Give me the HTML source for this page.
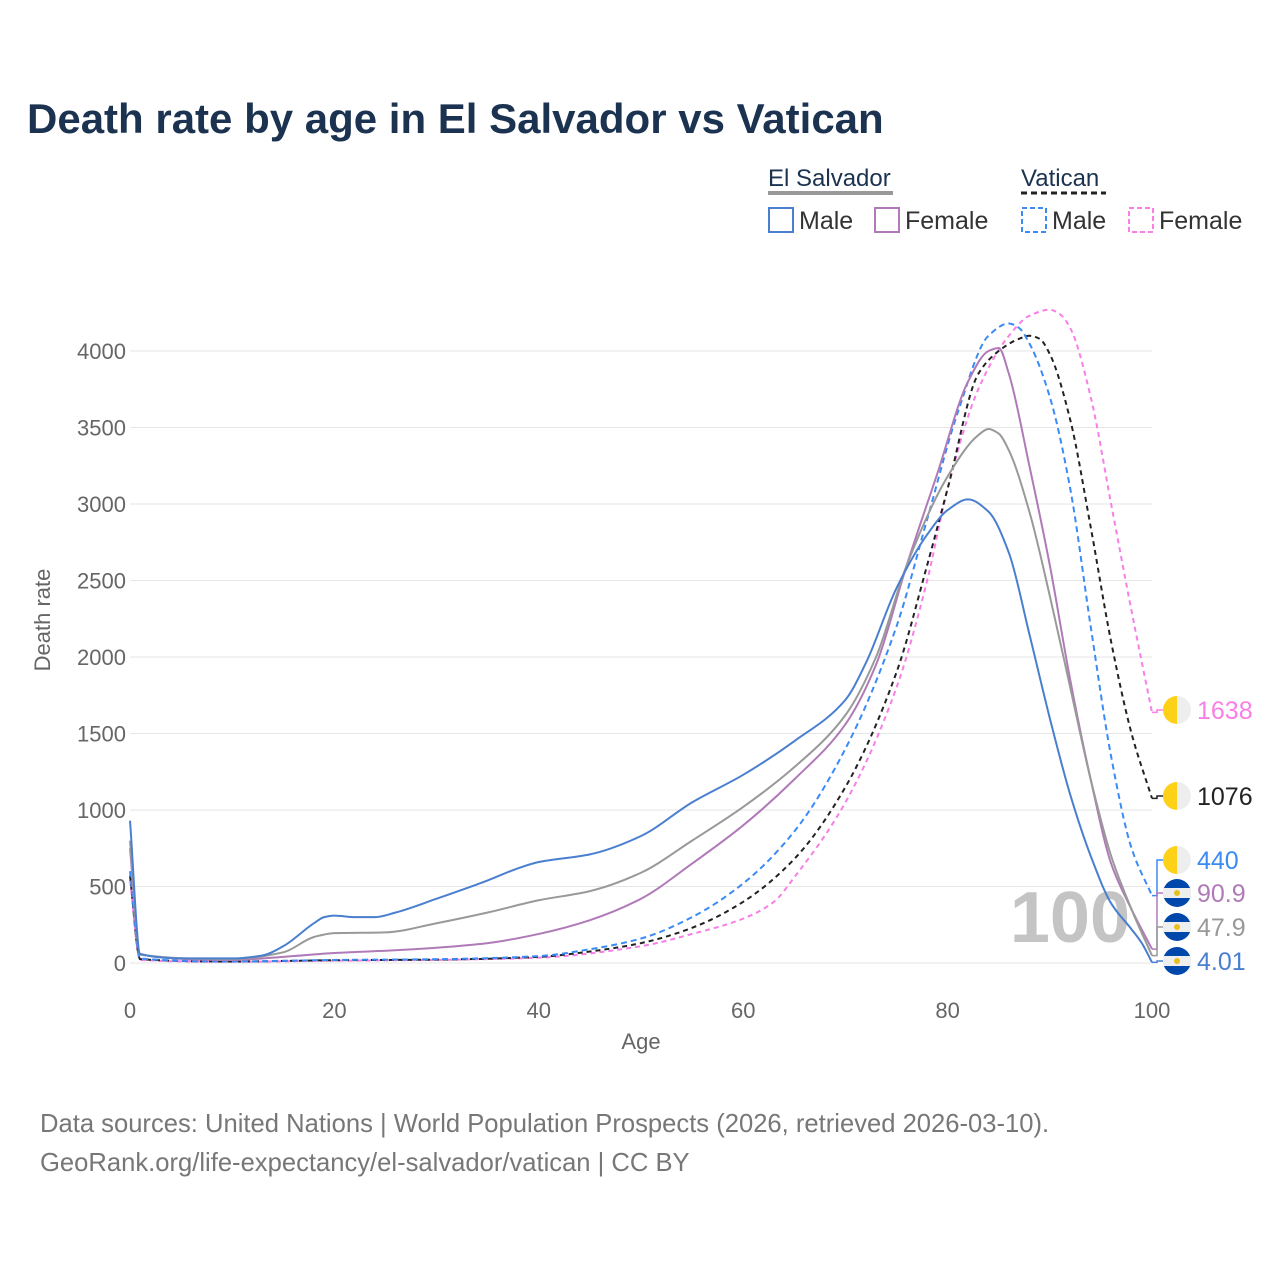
<!DOCTYPE html>
<html><head><meta charset="utf-8"><style>
body{margin:0;background:#fff;font-family:"Liberation Sans",sans-serif}
svg text{font-family:"Liberation Sans",sans-serif}
</style></head><body>
<svg id="c" width="1280" height="1280" xmlns="http://www.w3.org/2000/svg">
<text x="27" y="133" font-size="42" font-weight="bold" fill="#1b3350">Death rate by age in El Salvador vs Vatican</text>
<g font-size="25">
<text x="768" y="186" fill="#1b3350" font-size="24">El Salvador</text>
<line x1="768" y1="193" x2="893" y2="193" stroke="#999" stroke-width="4"/>
<text x="1021" y="186" fill="#1b3350" font-size="24">Vatican</text>
<line x1="1021" y1="193" x2="1106" y2="193" stroke="#222" stroke-width="3" stroke-dasharray="6,4"/>
<g><rect x="769" y="208" width="24" height="24" fill="none" stroke="#4a7fd0" stroke-width="2"/><text x="799" y="229" fill="#333">Male</text></g>
<g><rect x="875" y="208" width="24" height="24" fill="none" stroke="#b07ab8" stroke-width="2"/><text x="905" y="229" fill="#333">Female</text></g>
<g><rect x="1022" y="208" width="24" height="24" fill="none" stroke="#3b8bf5" stroke-width="2" stroke-dasharray="5,3"/><text x="1052" y="229" fill="#333">Male</text></g>
<g><rect x="1129" y="208" width="24" height="24" fill="none" stroke="#f77fe6" stroke-width="2" stroke-dasharray="5,3"/><text x="1159" y="229" fill="#333">Female</text></g>
</g>
<g id="grid"></g>
<text x="1130" y="942" font-size="72" font-weight="bold" fill="#c4c4c4" text-anchor="end">100</text>
<g id="series"></g>
<g id="labels"></g>
<text x="641" y="1049" font-size="22" fill="#666" text-anchor="middle">Age</text>
<text transform="translate(50,620) rotate(-90)" font-size="22" fill="#666" text-anchor="middle">Death rate</text>
<text x="40" y="1132" font-size="25.6" fill="#777">Data sources: United Nations | World Population Prospects (2026, retrieved 2026-03-10).</text>
<text x="40" y="1171" font-size="25.6" fill="#777">GeoRank.org/life-expectancy/el-salvador/vatican | CC BY</text>
</svg>
<script>
const yTicks=[0,500,1000,1500,2000,2500,3000,3500,4000];
const xTicks=[0,20,40,60,80,100];
const esMaleAge=[0,1,5,10,13,15,18,19,20,22,24,26,30,35,38,40,45,50,55,60,65,70,72,75,78,80,82,84,86,88,90,92,94,96,98,99,100];
const esMale=[930,60,30,30,50,110,260,300,310,300,300,330,420,540,620,660,710,830,1050,1230,1450,1720,1960,2450,2800,2960,3030,2950,2680,2150,1600,1100,700,390,220,130,4];
const esTotAge=[0,1,10,15,18,20,25,30,35,40,45,50,55,60,65,70,73,76,80,83,84,85,86,88,90,92,94,96,98,100];
const esTot=[800,55,25,70,170,195,200,260,330,410,470,590,800,1020,1280,1620,2000,2600,3180,3450,3490,3460,3350,2950,2400,1800,1200,700,350,48];
const esFemAge=[0,1,10,15,20,25,30,35,40,45,50,55,60,65,70,73,76,79,82,84,85,86,88,90,92,94,96,98,100];
const esFem=[750,55,20,40,65,80,100,130,190,280,420,650,900,1200,1560,1950,2600,3200,3800,4000,4020,3850,3250,2600,1850,1200,650,350,91];
const vaMaleAge=[0,1,10,20,30,40,45,50,55,60,65,70,75,78,81,84,86,87,88,90,92,94,96,98,100];
const vaMale=[600,30,10,20,25,45,90,160,300,520,860,1400,2200,2900,3600,4100,4180,4150,4050,3700,3100,2200,1350,750,440];
const vaTotAge=[0,1,10,20,30,40,45,50,55,60,65,70,75,78,80,83,85,87,88,89,90,92,94,96,98,100];
const vaTot=[570,25,10,18,22,40,75,130,230,400,680,1150,1900,2600,3100,3850,4000,4080,4100,4080,3980,3550,2850,2100,1500,1076];
const vaFemAge=[0,1,10,20,30,40,50,55,60,63,65,70,75,78,80,83,86,88,90,91,92,94,96,98,100];
const vaFem=[540,20,8,15,20,35,110,190,290,400,560,1050,1800,2500,3100,3750,4100,4230,4270,4240,4150,3700,3000,2300,1638];
const labelVals=["1638","1076","440","90.9","47.9","4.01"];
const NS="http://www.w3.org/2000/svg";
const X=a=>130+a*10.22, Y=v=>963-v*0.153;
function mk(t,at,p){const e=document.createElementNS(NS,t);for(const k in at)e.setAttribute(k,at[k]);p.appendChild(e);return e;}
const grid=document.getElementById('grid');
yTicks.forEach(v=>{
 const l=mk('line',{x1:130,x2:1152,y1:Y(v),y2:Y(v),stroke:'#e6e6e6','stroke-width':1},grid);
 
 
 const t=mk('text',{x:126,y:Y(v)+8,'font-size':22,fill:'#666','text-anchor':'end'},grid);t.textContent=v;
 
 
});
xTicks.forEach(v=>{
 const t=mk('text',{x:X(v),y:1018,'font-size':22,fill:'#666','text-anchor':'middle'},grid);t.textContent=v;
 
 
});
function path(ag,vs){
 const x=ag.map(X),y=vs.map(Y),n=x.length;
 const d=[],m=new Array(n);
 for(let i=0;i<n-1;i++)d.push((y[i+1]-y[i])/(x[i+1]-x[i]));
 m[0]=d[0];m[n-1]=d[n-2];
 for(let i=1;i<n-1;i++){ if(d[i-1]*d[i]<=0)m[i]=0; else {const h0=x[i]-x[i-1],h1=x[i+1]-x[i];const w1=2*h1+h0,w2=h1+2*h0;m[i]=(w1+w2)/(w1/d[i-1]+w2/d[i]);} }
 let s='M'+x[0]+','+y[0];
 for(let i=0;i<n-1;i++){const h=(x[i+1]-x[i])/3;
  s+='C'+(x[i]+h)+','+(y[i]+m[i]*h)+' '+(x[i+1]-h)+','+(y[i+1]-m[i+1]*h)+' '+x[i+1]+','+y[i+1];}
 return s;}
const S=document.getElementById('series');
const series=[
 [vaFemAge,vaFem,'#f77fe6','5,4','series-vatican-female',710],
 [vaTotAge,vaTot,'#222','5,4','series-vatican-total',796],
 [vaMaleAge,vaMale,'#3b8bf5','6,4','series-vatican-male',860],
 [esFemAge,esFem,'#b07ab8','','series-el-salvador-female',893],
 [esTotAge,esTot,'#999','','series-el-salvador-total',927],
 [esMaleAge,esMale,'#4a7fd0','','series-el-salvador-male',961]];
const L=document.getElementById('labels');
const lblColors=['#f77fe6','#222','#3b8bf5','#b07ab8','#999','#4a7fd0'];
series.forEach((s,i)=>{
 const e=mk('path',{d:path(s[0],s[1]),fill:'none',stroke:s[2],'stroke-width':2,'stroke-dasharray':s[3]},S);
 
 
 const ey=Y(s[1][s[1].length-1]);
 const c=mk('path',{d:`M1152 ${ey}H1157V${s[5]}H1163`,fill:'none',stroke:s[2],'stroke-width':1.5},L);
 
 
 const g=mk('g',{},L);
 
 
 if(i<3){mk('circle',{cx:1177,cy:s[5],r:14,fill:'#eee'},g);mk('path',{d:`M1177 ${s[5]-14}A14 14 0 0 0 1177 ${s[5]+14}Z`,fill:'#fcd116'},g);}
 else{mk('circle',{cx:1177,cy:s[5],r:14,fill:'#0047ab'},g);mk('rect',{x:1163,y:s[5]-5,width:28,height:10,fill:'#eee'},g);mk('circle',{cx:1177,cy:s[5],r:3,fill:'#e8c020'},g);}
 const t=mk('text',{x:1197,y:s[5]+9,'font-size':25,fill:lblColors[i]},L);t.textContent=labelVals[i];
 
 
});
</script>
</body></html>
